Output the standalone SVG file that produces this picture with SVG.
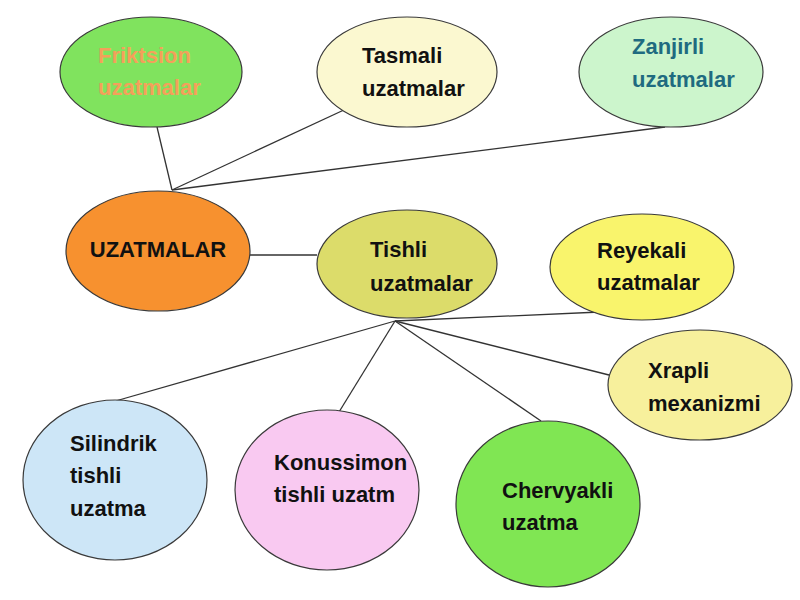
<svg xmlns="http://www.w3.org/2000/svg" width="800" height="600" viewBox="0 0 800 600">
<style>
.n{stroke:#3a3a3a;stroke-width:1.2}
.t{font-family:"Liberation Sans",Arial,sans-serif;font-weight:bold;font-size:22px;fill:#111}
.c{stroke:#333;stroke-width:1.3;fill:none}
</style>
<rect width="800" height="600" fill="#ffffff"/>
<g id="connectors">
<line class="c" x1="157" y1="127" x2="172" y2="190"/>
<line class="c" x1="346" y1="109" x2="172" y2="190"/>
<line class="c" x1="665" y1="127" x2="172" y2="190"/>
<line class="c" x1="250" y1="255" x2="317" y2="255"/>
<line class="c" x1="395" y1="321" x2="600" y2="312"/>
<line class="c" x1="395" y1="321" x2="609" y2="375"/>
<line class="c" x1="395" y1="321" x2="541" y2="421"/>
<line class="c" x1="395" y1="321" x2="339" y2="412"/>
<line class="c" x1="395" y1="321" x2="112" y2="402"/>
</g>
<g id="friktsion">
<ellipse class="n" cx="151" cy="72" rx="91" ry="55" fill="#80e35e"/>
<text class="t" x="98" y="63" style="fill:#f4a05a">Friktsion</text>
<text class="t" x="98" y="95" style="fill:#f4a05a">uzatmalar</text>
</g>
<g id="tasmali">
<ellipse class="n" cx="407" cy="72" rx="90" ry="55" fill="#fbf8d0"/>
<text class="t" x="362" y="63">Tasmali</text>
<text class="t" x="362" y="96">uzatmalar</text>
</g>
<g id="zanjirli">
<ellipse class="n" cx="671" cy="72" rx="92" ry="55" fill="#ccf5cc"/>
<text class="t" x="632" y="54" style="fill:#1f6b80">Zanjirli</text>
<text class="t" x="632" y="87" style="fill:#1f6b80">uzatmalar</text>
</g>
<g id="uzatmalar">
<ellipse class="n" cx="158" cy="251" rx="92" ry="60" fill="#f7912f"/>
<text class="t" x="158" y="257" text-anchor="middle">UZATMALAR</text>
</g>
<g id="tishli">
<ellipse class="n" cx="407" cy="264" rx="90" ry="54" fill="#dcdc6a"/>
<text class="t" x="370" y="257">Tishli</text>
<text class="t" x="370" y="291">uzatmalar</text>
</g>
<g id="reyekali">
<ellipse class="n" cx="642" cy="267" rx="92" ry="53" fill="#f9f46c"/>
<text class="t" x="597" y="258">Reyekali</text>
<text class="t" x="597" y="290">uzatmalar</text>
</g>
<g id="xrapli">
<ellipse class="n" cx="700" cy="385" rx="92" ry="55" fill="#f7f09c"/>
<text class="t" x="648" y="378">Xrapli</text>
<text class="t" x="648" y="411">mexanizmi</text>
</g>
<g id="silindrik">
<ellipse class="n" cx="115" cy="480" rx="92" ry="80" fill="#cde6f7"/>
<text class="t" x="70" y="451">Silindrik</text>
<text class="t" x="70" y="483">tishli</text>
<text class="t" x="70" y="516">uzatma</text>
</g>
<g id="konussimon">
<ellipse class="n" cx="327" cy="490" rx="92" ry="80" fill="#f9c9f1"/>
<text class="t" x="274" y="470">Konussimon</text>
<text class="t" x="274" y="502">tishli uzatm</text>
</g>
<g id="chervyakli">
<ellipse class="n" cx="548" cy="504" rx="92" ry="83" fill="#80e653"/>
<text class="t" x="502" y="498">Chervyakli</text>
<text class="t" x="502" y="530">uzatma</text>
</g>
</svg>
